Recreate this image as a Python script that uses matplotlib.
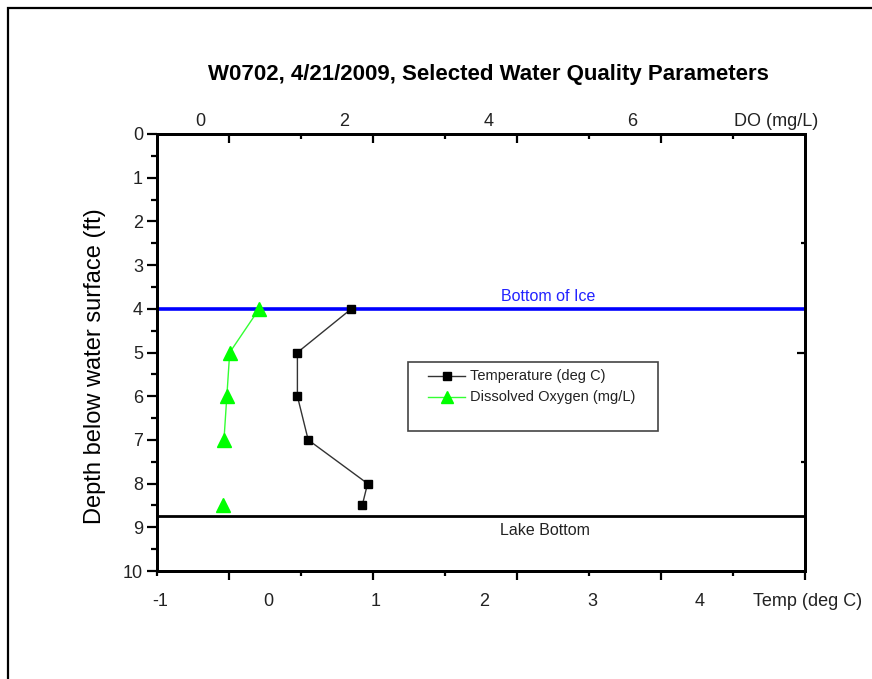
import matplotlib.pyplot as plt
from matplotlib.patches import Rectangle
import numpy as np

plt.rcParams['font.family'] = ['Liberation Sans', 'DejaVu Sans']

# Profile data, W0702 on 4/21/2009
depth_ft = [4, 5, 6, 7, 8, 8.5]
temp_c = [0.80, 0.30, 0.30, 0.40, 0.95, 0.90]
do_mgl = [0.82, 0.41, 0.37, 0.33, np.nan, 0.31]  # no DO reading at 8 ft

ice_depth = 4.0
lake_bottom = 8.75

temp_label_pos = [-1, 0, 1, 2, 3, 4, 5]
temp_labels = ["-1", "0", "1", "2", "3", "4", "Temp (deg C)"]
do_label_pos = [0, 2, 4, 6, 8]
do_labels = ["0", "2", "4", "6", "DO (mg/L)"]
depth_ticks = list(range(0, 11))

# tick marks as laid out by the original plotting package
temp_major = [-1 / 3, 1, 7 / 3, 11 / 3, 5]
temp_minor = [-1, 1 / 3, 5 / 3, 3, 13 / 3]
do_major = [0.4, 2.4, 4.4, 6.4]
do_minor = [1.4, 3.4, 5.4, 7.4]
right_major = [5]
right_minor = [2.5, 7.5]

W, H = 872, 679
fig = plt.figure(figsize=(W / 100, H / 100), dpi=100)

# outer frame (only top and left edges fall inside the canvas)
fig.patches.append(Rectangle((8 / W, -0.2), 1.2, 1.2 - 8 / H,
                             transform=fig.transFigure, fill=False,
                             edgecolor="black", linewidth=1.6, clip_on=False))

L, R, T, B = 157, 805, 134, 571
ax = fig.add_axes([L / W, 1 - B / H, (R - L) / W, (B - T) / H])
ax2 = ax.twiny()
ax3 = ax.twinx()

ax.set_xlim(-1, 5)
ax.set_ylim(10, 0)
ax2.set_xlim(-0.6, 8.4)
ax3.set_ylim(10, 0)

spine_lw = 2.0
for a in (ax, ax2, ax3):
    for s in a.spines.values():
        s.set_linewidth(spine_lw)

# bottom axis: marks only, labels written separately
ax.set_xticks(temp_major)
ax.set_xticks(temp_minor, minor=True)
ax.tick_params(axis="x", which="both", direction="out", labelbottom=False,
               top=False, width=1.6)
ax.tick_params(axis="x", which="major", length=6.5)
ax.tick_params(axis="x", which="minor", length=3.5)
for v, t in zip(temp_label_pos, temp_labels):
    ax.annotate(t, xy=(v, 0), xycoords=("data", "axes fraction"),
                xytext=(3, -30), textcoords="offset pixels",
                ha="center", va="center", fontsize=13, color="#222222")

# left axis
ax.set_yticks(depth_ticks)
ax.set_yticks(np.arange(0.5, 10, 1), minor=True)
ax.tick_params(axis="y", which="both", direction="out", right=False,
               width=1.6, labelsize=13, labelcolor="#222222", pad=3)
ax.tick_params(axis="y", which="major", length=7)
ax.tick_params(axis="y", which="minor", length=4)
ax.set_yticklabels([str(d) for d in depth_ticks])

# top axis (DO)
ax2.set_xticks(do_major)
ax2.set_xticks(do_minor, minor=True)
ax2.tick_params(axis="x", which="both", direction="in", labeltop=False,
                width=1.6)
ax2.tick_params(axis="x", which="major", length=6.5)
ax2.tick_params(axis="x", which="minor", length=3.5)
for v, t in zip(do_label_pos, do_labels):
    ax2.annotate(t, xy=(v, 1), xycoords=("data", "axes fraction"),
                 xytext=(0, 13), textcoords="offset pixels",
                 ha="center", va="center", fontsize=13, color="#222222")

# right axis
ax3.set_yticks(right_major)
ax3.set_yticks(right_minor, minor=True)
ax3.tick_params(axis="y", which="both", direction="in", labelright=False,
                width=1.6)
ax3.tick_params(axis="y", which="major", length=6)
ax3.tick_params(axis="y", which="minor", length=3)

# reference lines
ax.axhline(ice_depth, color="#0000ff", linewidth=2.6, zorder=2)
ax.axhline(lake_bottom, color="black", linewidth=2.0, zorder=2)
ax.text(2.62, 3.82, "Bottom of Ice", color="#2222ff", fontsize=11.5,
        ha="center", va="baseline")
ax.text(2.59, 9.18, "Lake Bottom", color="#222222", fontsize=11.5,
        ha="center", va="baseline")

# profiles
ax.plot(temp_c, depth_ft, "-s", color="#333333", linewidth=1.0,
        markersize=6, markerfacecolor="black", markeredgecolor="black",
        zorder=4)
ax2.plot(do_mgl, depth_ft, "-^", color="#33ff33", linewidth=1.0,
         markersize=10.5, markerfacecolor="#00ff00", markeredgecolor="#00ff00",
         zorder=4)


def axfrac(px, py):
    return (px - L) / (R - L), (B - py) / (B - T)


# legend box
x0, y0 = axfrac(408, 431)
x1, y1 = axfrac(658, 362)
ax.add_patch(Rectangle((x0, y0), x1 - x0, y1 - y0, transform=ax.transAxes,
                       fill=True, facecolor="white", edgecolor="#444444",
                       linewidth=1.2, zorder=5))
entries = [("Temperature (deg C)", "s", "#333333", "black", 6, 376),
           ("Dissolved Oxygen (mg/L)", "^", "#33ff33", "#00ff00", 8, 397)]
for label, mk, lc, mc, ms, py in entries:
    lx0, ly = axfrac(428, py)
    lx1, _ = axfrac(465, py)
    mx, _ = axfrac(447, py)
    tx, _ = axfrac(470, py)
    ax.plot([lx0, lx1], [ly, ly], color=lc, linewidth=1.0,
            transform=ax.transAxes, zorder=6)
    ax.plot([mx], [ly], marker=mk, color=mc, markersize=ms,
            transform=ax.transAxes, zorder=7)
    ax.text(tx, ly, label, transform=ax.transAxes, fontsize=10.5,
            ha="left", va="center", color="#222222", zorder=7)

fig.text(488 / W, 1 - 80 / H,
         "W0702, 4/21/2009, Selected Water Quality Parameters",
         fontsize=16, fontweight="bold", ha="center", va="baseline")
fig.text(95 / W, 1 - 366 / H, "Depth below water surface (ft)",
         fontsize=17, rotation=90, ha="center", va="center")

fig.savefig("out.png", dpi=100)
